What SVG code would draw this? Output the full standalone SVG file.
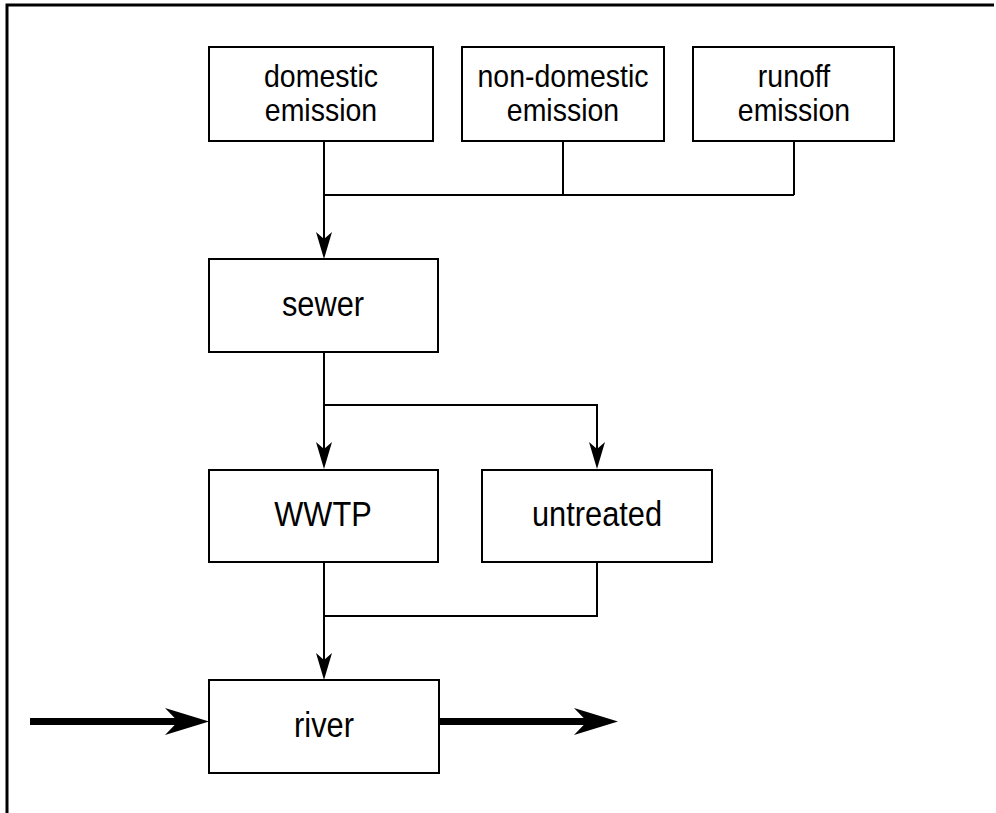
<svg xmlns="http://www.w3.org/2000/svg" width="996" height="813" viewBox="0 0 996 813">
<defs>
<style>
.box{fill:#fff;stroke:#000;stroke-width:2}
.lbl{font-family:"Liberation Sans",Arial,sans-serif;fill:#000;text-anchor:middle}
.two{font-size:28.5px}
.one{font-size:30.8px}
.ln{fill:none;stroke:#000;stroke-width:2}
.thick{fill:none;stroke:#000;stroke-width:7}
</style>
</defs>
<rect width="996" height="813" fill="#fff"/>
<path d="M7,813 V5 H994" fill="none" stroke="#000" stroke-width="3"/>
<g id="domestic"><rect class="box" x="209" y="47" width="224" height="94"/><text class="lbl two" transform="translate(321,86.5) scale(1,1.12)">domestic</text><text class="lbl two" transform="translate(321,120.5) scale(1,1.12)">emission</text></g>
<g id="nondomestic"><rect class="box" x="462" y="47" width="202" height="94"/><text class="lbl two" transform="translate(563,86.5) scale(1,1.12)">non-domestic</text><text class="lbl two" transform="translate(563,120.5) scale(1,1.12)">emission</text></g>
<g id="runoff"><rect class="box" x="693" y="47" width="201" height="94"/><text class="lbl two" transform="translate(794,86.5) scale(1,1.12)">runoff</text><text class="lbl two" transform="translate(794,120.5) scale(1,1.12)">emission</text></g>
<g id="sewer"><rect class="box" x="209" y="259" width="229" height="93"/><text class="lbl one" transform="translate(323,315.5) scale(1,1.12)">sewer</text></g>
<g id="wwtp"><rect class="box" x="209" y="470" width="229" height="92"/><text class="lbl one" transform="translate(323,526) scale(1,1.12)">WWTP</text></g>
<g id="untreated"><rect class="box" x="482" y="470" width="230" height="92"/><text class="lbl one" transform="translate(597,526) scale(1,1.12)">untreated</text></g>
<g id="river"><rect class="box" x="209" y="680" width="230" height="93"/><text class="lbl one" transform="translate(324,737) scale(1,1.12)">river</text></g>
<g id="connectors">
<path class="ln" d="M563,141 V195 M794,141 V195 M324,195 H794"/>
<path class="ln" d="M324,141 V240"/>
<path d="M324,259 L316,232 L324,239 L332,232 Z" fill="#000"/>
<path class="ln" d="M324,352 V450 M324,405 H597 V450"/>
<path d="M324,469 L316,442 L324,449 L332,442 Z" fill="#000"/>
<path d="M597,469 L589,442 L597,449 L605,442 Z" fill="#000"/>
<path class="ln" d="M324,562 V660 M597,562 V616 H324"/>
<path d="M324,680 L316,653 L324,660 L332,653 Z" fill="#000"/>
<path class="thick" d="M30,721.5 H180"/>
<path d="M209,721.5 L165,708 L178,721.5 L165,735 Z" fill="#000"/>
<path class="thick" d="M439,721.5 H590"/>
<path d="M618,721.5 L574,708 L587,721.5 L574,735 Z" fill="#000"/>
</g>
</svg>
